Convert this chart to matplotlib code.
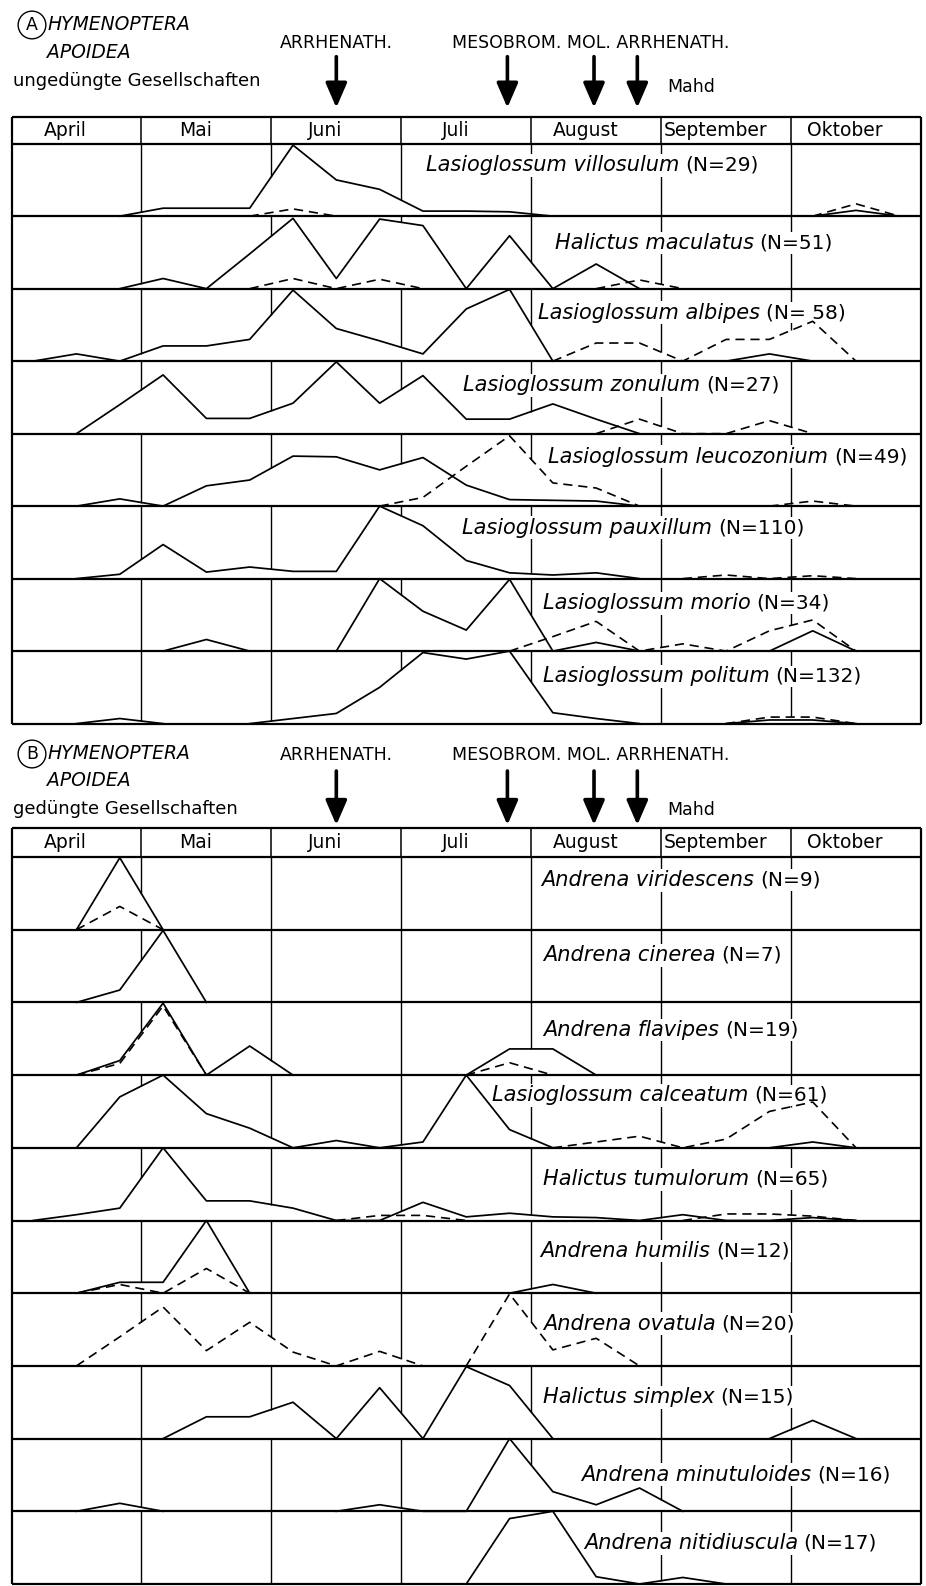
import numpy as np
import matplotlib
matplotlib.use("Agg")
import matplotlib.pyplot as plt
from matplotlib.patches import FancyArrowPatch

plt.rcParams["font.family"] = ["DejaVu Sans"]

N = None

# time axis: three decades (10-day periods) per month, April .. Oktober
months = ["April", "Mai", "Juni", "Juli", "August", "September", "Oktober"]
decades = np.arange(21) + 0.5

# mowing dates (in decades from 1 April) and their labels
mow_dates = [7.5, 11.45, 13.45, 14.45]
mow_text_1 = "ARRHENATH."
mow_text_2 = "MESOBROM. MOL. ARRHENATH."

# ---- A: ungedüngte Gesellschaften ----
a_species = ["Lasioglossum villosulum", "Halictus maculatus", "Lasioglossum albipes",
             "Lasioglossum zonulum", "Lasioglossum leucozonium", "Lasioglossum pauxillum",
             "Lasioglossum morio", "Lasioglossum politum"]
a_counts = ["(N=29)", "(N=51)", "(N= 58)", "(N=27)", "(N=49)", "(N=110)", "(N=34)", "(N=132)"]

# relative abundance per decade (1 = full row height), solid line
a_solid = [
    [N, N, 0, .11, .11, .11, .98, .50, .37, .07, .07, .06, 0, N, N, N, N, N, 0, .08, 0],
    [N, N, 0, .14, 0, .48, .97, .14, .96, .87, 0, .73, 0, .34, 0, N, N, N, N, N, N],
    [0, .10, 0, .21, .21, .30, .98, .45, .28, .10, .72, .99, 0, N, N, N, 0, .10, 0, N, N],
    [N, 0, .40, .81, .21, .21, .42, .99, .42, .80, .20, .20, .41, .20, 0, N, N, N, N, N, N],
    [N, 0, .10, 0, .28, .36, .69, .68, .50, .67, .29, .09, .08, .07, 0, N, N, N, N, N, N],
    [N, 0, .06, .47, .09, .16, .10, .10, 1.0, .73, .25, .08, .05, .08, 0, N, N, N, N, N, N],
    [N, N, N, 0, .16, 0, N, 0, 1.0, .55, .29, .99, 0, .12, 0, N, N, 0, .28, 0, N],
    [N, 0, .07, 0, N, 0, .07, .14, .50, .98, .89, 1.0, .15, .07, 0, N, 0, .05, .05, 0, N],
]
# dashed line
a_dashed = [
    [N, N, N, N, N, 0, .10, 0, N, N, N, N, N, N, N, N, N, N, 0, .17, 0],
    [N, N, N, N, N, 0, .14, 0, .13, 0, N, N, N, 0, .12, 0, N, N, N, N, N],
    [N, N, N, N, N, N, N, N, N, N, N, N, 0, .25, .25, 0, .30, .30, .55, 0, N],
    [N, N, N, N, N, N, N, N, N, N, N, N, N, 0, .20, 0, 0, .18, 0, N, N],
    [N, N, N, N, N, N, N, N, 0, .12, .55, .97, .32, .25, 0, N, N, 0, .07, 0, N],
    [N, N, N, N, N, N, N, N, N, N, N, N, N, N, N, 0, .05, 0, .04, 0, N],
    [N, N, N, N, N, N, N, N, N, N, N, 0, .20, .41, 0, .10, 0, .28, .43, 0, N],
    [N, N, N, N, N, N, N, N, N, N, N, N, N, N, N, N, 0, .09, .09, 0, N],
]

# ---- B: gedüngte Gesellschaften ----
b_species = ["Andrena viridescens", "Andrena cinerea", "Andrena flavipes",
             "Lasioglossum calceatum", "Halictus tumulorum", "Andrena humilis",
             "Andrena ovatula", "Halictus simplex", "Andrena minutuloides",
             "Andrena nitidiuscula"]
b_counts = ["(N=9)", "(N=7)", "(N=19)", "(N=61)", "(N=65)", "(N=12)", "(N=20)",
            "(N=15)", "(N=16)", "(N=17)"]

b_solid = [
    [N, 0, .99, 0] + [N] * 17,
    [N, 0, .17, .99, 0] + [N] * 16,
    [N, 0, .20, .99, 0, .40, 0, N, N, N, 0, .36, .36, 0, N, N, N, N, N, N, N],
    [N, 0, .70, 1.0, .47, .27, 0, .10, 0, .08, 1.0, .25, 0, N, N, N, N, 0, .08, 0, N],
    [0, .08, .17, 1.0, .27, .27, .17, 0, 0, .25, .05, .10, .05, .04, 0, .08, 0, 0, .04, 0, N],
    [N, 0, .15, .15, 1.0, 0, N, N, N, N, N, 0, .12, 0, N, N, N, N, N, N, N],
    [N] * 21,
    [N, N, N, 0, .30, .30, .50, 0, .70, 0, .99, .73, 0, N, N, N, N, 0, .25, 0, N],
    [N, 0, .11, 0, N, N, N, 0, .09, 0, 0, 1.0, .27, .09, .32, 0, N, N, N, N, N],
    [N] * 10 + [0, .90, 1.0, .10, 0, .09, 0, N, N, N, N],
]
b_dashed = [
    [N, 0, .32, 0] + [N] * 17,
    [N] * 21,
    [N, 0, .16, .95, 0, N, N, N, N, N, 0, .17, 0, N, N, N, N, N, N, N, N],
    [N] * 12 + [0, .08, .16, 0, .12, .50, .63, 0, N],
    [N] * 7 + [0, .07, .07, 0, N, N, N, N, 0, .09, .09, .06, 0, N],
    [N, 0, .12, 0, .34, 0] + [N] * 15,
    [N, 0, .40, .81, .21, .60, .19, 0, .20, 0, 0, .99, .22, .38, 0, N, N, N, N, N, N],
    [N] * 21,
    [N] * 21,
    [N] * 21,
]

# label placement (decade units / fraction of row height)
a_lab_x = [9.56, 12.54, 12.16, 10.43, 12.39, 10.40, 12.27, 12.27]
a_lab_y = [0.70, 0.63, 0.67, 0.67, 0.68, 0.70, 0.66, 0.65]
b_lab_x = [12.23, 12.27, 12.27, 11.1, 12.27, 12.2, 12.27, 12.27, 13.16, 13.21]
b_lab_y = [0.68, 0.65, 0.62, 0.72, 0.57, 0.58, 0.58, 0.57, 0.50, 0.56]

W, H = 926, 1586
LEFT, RIGHT = 11.5, 921
DEC_PX = (RIGHT - LEFT) / 21

fig = plt.figure(figsize=(W / 100, H / 100), dpi=100)
renderer = fig.canvas.get_renderer()


def make_axes(top_px, bottom_px, table_bottom_px, row_px):
    ax = fig.add_axes([LEFT / W, 1 - bottom_px / H, (RIGHT - LEFT) / W, (bottom_px - top_px) / H])
    ax.set_xlim(0, 21)
    ax.set_ylim((table_bottom_px - bottom_px) / row_px, (table_bottom_px - top_px) / row_px)
    ax.axis("off")
    return ax


def seg_mid(v, b):
    # value of a series on a month boundary b (between decade b-1 and b)
    if np.isnan(v[b - 1]) or np.isnan(v[b]):
        return np.nan
    return (v[b - 1] + v[b]) / 2


def draw_panel(ax, tag, subtitle, solid, dashed, species, counts, lab_x, lab_y,
               row_px, head_px, txt, arr):
    n = len(species)
    top = n + head_px / row_px
    up = lambda px: top + px / row_px

    # frame, header and row lines
    ax.hlines([top, n] + list(range(n)), 0, 21, color="k", lw=1.6, zorder=3, clip_on=False)
    ax.vlines([0, 21], 0, top, color="k", lw=1.6, zorder=3, clip_on=False)
    ax.vlines(np.arange(3, 21, 3), n, top, color="k", lw=1.1, zorder=3)
    for m, name in enumerate(months):
        ax.text(3 * m + 1.25, n + head_px / row_px / 2, name, ha="center", va="center",
                fontsize=13.5)

    for k in range(n):
        base = n - 1 - k
        s = np.array(solid[k], dtype=float)
        d = np.array(dashed[k], dtype=float)
        ax.plot(decades, base + s, color="k", lw=1.25, zorder=3, clip_on=False)
        ax.plot(decades, base + d, color="k", lw=1.2, ls=(0, (5.5, 3.5)), zorder=3,
                clip_on=False)

        # month lines run down from the row top until they meet a curve
        for b in range(3, 21, 3):
            vals = [v for v in (seg_mid(s, b), seg_mid(d, b)) if not np.isnan(v)]
            env = max(vals) if vals else 0
            if env < 0.95:
                ax.vlines(b, base + env, base + 1, color="k", lw=1.0, zorder=1)

        box = dict(fc="white", ec="none", pad=1.0)
        t = ax.text(lab_x[k], base + lab_y[k], species[k], ha="left", va="center",
                    fontsize=15, style="italic", bbox=box, zorder=2)
        x_end = ax.transData.inverted().transform(
            (t.get_window_extent(renderer).x1, 0))[0]
        ax.text(x_end + 6 / DEC_PX, base + lab_y[k], counts[k], ha="left", va="center",
                fontsize=14.5, bbox=box, zorder=2)

    # title block
    ax.text((32 - LEFT) / DEC_PX, up(txt[0]), tag, ha="center", va="center", fontsize=12.5,
            bbox=dict(boxstyle="circle,pad=0.28", fc="none", ec="k", lw=1.0))
    ax.text((48 - LEFT) / DEC_PX, up(txt[0]), "HYMENOPTERA", ha="left", va="center",
            fontsize=13.5, style="italic")
    ax.text((47 - LEFT) / DEC_PX, up(txt[1]), "APOIDEA", ha="left", va="center",
            fontsize=13.5, style="italic")
    ax.text((13 - LEFT) / DEC_PX, up(txt[2]), subtitle, ha="left", va="center", fontsize=13)

    # mowing arrows
    ax.text(mow_dates[0], up(txt[3]), mow_text_1, ha="center", va="center", fontsize=12.5)
    ax.text((452 - LEFT) / DEC_PX, up(txt[3]), mow_text_2, ha="left", va="center",
            fontsize=12.5)
    ax.text((667 - LEFT) / DEC_PX, up(txt[4]), "Mahd", ha="left", va="center", fontsize=12.5)
    for x in mow_dates:
        ax.add_patch(FancyArrowPatch((x, up(arr[0])), (x, up(arr[1])),
                                     arrowstyle="-|>,head_length=15,head_width=6.5",
                                     mutation_scale=1, lw=2.6, color="k",
                                     shrinkA=0, shrinkB=0, clip_on=False))


ax_a = make_axes(0, 729, 723.6, 72.49)
draw_panel(ax_a, "A", "ungedüngte Gesellschaften", a_solid, a_dashed, a_species, a_counts,
           a_lab_x, a_lab_y, 72.49, 27, [91.7, 63.7, 35.7, 74, 29.7], [60, 9])

ax_b = make_axes(729, 1586, 1584, 72.7)
draw_panel(ax_b, "B", "gedüngte Gesellschaften", b_solid, b_dashed, b_species, b_counts,
           b_lab_x, b_lab_y, 72.7, 29, [74, 47, 19.4, 73, 18], [57, 3])

fig.savefig("out.png", dpi=100, facecolor="white")
